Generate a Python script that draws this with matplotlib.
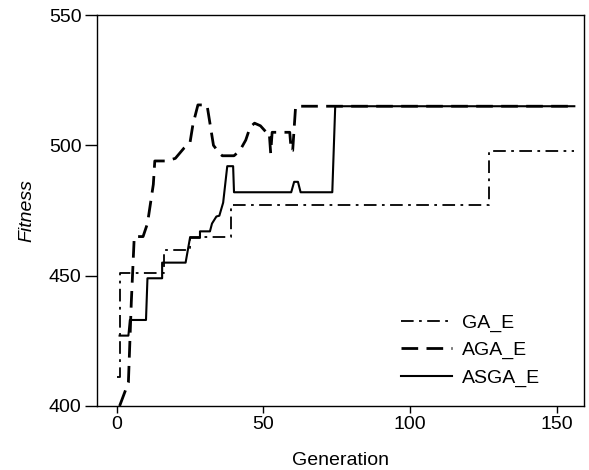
import matplotlib
matplotlib.use("Agg")

import matplotlib.pyplot as plt

plt.rcParams['font.family'] = ['Liberation Sans', 'DejaVu Sans']

# GA_E: dash-dot
ga_gen = [0, 1, 1, 16, 16, 25, 25, 39, 39, 127, 127, 156]
ga_fit = [411, 411, 451, 451, 460, 460, 465, 465, 477, 477, 498, 498]

# AGA_E: long dashes
aga_gen = [1, 4, 5, 6, 9, 10.5, 12.5, 13, 17, 20, 23, 25, 26, 27.7, 30.8,
           33, 35, 36, 40, 42, 44, 45.5, 47, 49, 51, 52, 52.5, 53, 59,
           59.5, 60, 61, 156]
aga_fit = [400, 409, 440, 465, 465, 470, 485, 494, 494, 495, 499, 501, 508,
           515.5, 515.5, 500, 497, 496, 496, 498, 502, 507, 508.5, 507.5,
           505, 505, 497, 505, 505, 498, 498, 515, 515]

# ASGA_E: thin solid
asga_gen = [1, 4, 4.5, 10, 10.5, 15.5, 15.5, 23.5, 25, 28.4, 28.4, 31.8,
            32.5, 34, 35, 36.3, 37.7, 39.7, 40, 59.5, 60.5, 61.8, 62.7,
            73.5, 74.5, 156]
asga_fit = [427, 427, 433, 433, 449, 449, 455, 455, 464.5, 464.5, 467, 467,
            470, 472.7, 473, 478, 492, 492, 482, 482, 486, 486, 482,
            482, 515, 515]

fig = plt.figure(figsize=(5.89, 4.70), dpi=100)
ax = fig.add_axes([97/589, 64/470, 487/589, 391/470])

ax.plot(ga_gen, ga_fit, color='black', lw=1.3, dashes=(7, 3, 1.5, 3), label='GA_E')
ax.plot(aga_gen, aga_fit, color='black', lw=2.0, dashes=(6, 3), label='AGA_E')
ax.plot(asga_gen, asga_fit, color='black', lw=1.5, label='ASGA_E')

ax.set_xlim(-6.7, 159.3)
ax.set_ylim(400, 550)
ax.set_xticks([0, 50, 100, 150])
ax.set_yticks([400, 450, 500, 550])
ax.tick_params(axis='x', direction='out', length=5, width=1, labelsize=14, pad=2)
ax.tick_params(axis='y', direction='out', length=9, width=1, labelsize=14, pad=2)
for s in ax.spines.values():
    s.set_linewidth(1)

ax.set_xlabel('Generation', fontsize=14, labelpad=14)
ax.set_ylabel('Fitness', fontsize=14, style='italic', labelpad=10)

ax.legend(loc='lower right', bbox_to_anchor=(0.945, 0.005), frameon=False,
          fontsize=14, handlelength=2.6, handletextpad=0.5, labelspacing=0.5)

fig.savefig('out.png', dpi=100)
plt.close(fig)
